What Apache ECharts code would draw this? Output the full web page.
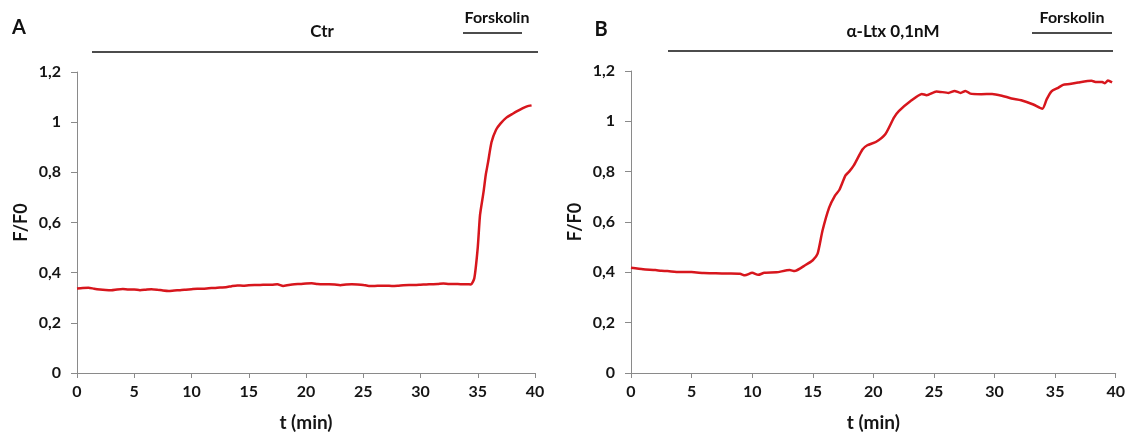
<!DOCTYPE html>
<html>
<head>
<meta charset="utf-8">
<script src="https://cdn.jsdelivr.net/npm/echarts@6/dist/echarts.min.js"></script>
<style>
  html, body { margin: 0; padding: 0; background: #fff; }
  #main { width: 1128px; height: 437px; }
</style>
</head>
<body>
<div id="main"></div>
<script>
// panel A : control, forskolin at ~35 min
var timeA = [0, 0.5, 1, 1.5, 2, 2.5, 3, 3.5, 4, 4.5, 5, 5.5, 6, 6.5, 7, 7.5, 8, 8.5, 9, 9.5,
  10, 10.5, 11, 11.5, 12, 12.5, 13, 13.5, 14, 14.5, 15, 15.5, 16, 16.5, 17, 17.5, 18, 18.5, 19, 19.5,
  20, 20.5, 21, 21.5, 22, 22.5, 23, 23.5, 24, 24.5, 25, 25.5, 26, 26.5, 27, 27.5, 28, 28.5, 29, 29.5,
  30, 30.5, 31, 31.5, 32, 32.5, 33, 33.5, 34, 34.4, 34.7, 35, 35.2, 35.5, 35.7, 35.9, 36.2, 36.6,
  37, 37.5, 38, 38.4, 38.9, 39.3, 39.7];
var ratioA = [0.337, 0.339, 0.340, 0.336, 0.333, 0.331, 0.330, 0.333, 0.335, 0.333, 0.333, 0.330, 0.332, 0.334, 0.332, 0.329, 0.327, 0.329, 0.330, 0.332,
  0.334, 0.336, 0.336, 0.338, 0.339, 0.341, 0.342, 0.346, 0.349, 0.348, 0.350, 0.351, 0.351, 0.352, 0.352, 0.354, 0.347, 0.351, 0.354, 0.355,
  0.357, 0.358, 0.355, 0.354, 0.354, 0.353, 0.350, 0.353, 0.354, 0.353, 0.351, 0.347, 0.347, 0.348, 0.348, 0.347, 0.348, 0.350, 0.351, 0.351,
  0.352, 0.353, 0.354, 0.355, 0.357, 0.355, 0.355, 0.354, 0.354, 0.353, 0.378, 0.50, 0.63, 0.72, 0.79, 0.84, 0.92, 0.97,
  0.995, 1.018, 1.032, 1.043, 1.055, 1.063, 1.067];

// panel B : alpha-Ltx 0,1nM, forskolin at ~34 min
var timeB = [0, 1, 2, 2.5, 3, 4, 5, 6, 7, 8, 9, 9.4, 10, 10.5, 11, 12, 13.1, 13.5, 14.4, 15,
  15.4, 15.8, 16.35, 16.8, 17.2, 17.7, 18.0, 18.4, 19.1, 19.5, 20.2, 21.0, 21.7, 22.1, 23.05, 24.0,
  24.4, 25.2, 26.2, 26.7, 27.2, 27.6, 28.0, 28.9, 29.8, 30.6, 31.4, 32.2, 33.2, 33.95, 34.3, 34.7,
  35.2, 35.65, 36.2, 36.9, 38.0, 38.4, 38.9, 39.1, 39.35, 39.7];
var ratioB = [0.418, 0.412, 0.409, 0.406, 0.405, 0.401, 0.401, 0.397, 0.396, 0.395, 0.394, 0.388, 0.398, 0.390, 0.398, 0.400, 0.409, 0.405, 0.429, 0.448,
  0.474, 0.565, 0.657, 0.702, 0.728, 0.785, 0.80, 0.826, 0.888, 0.905, 0.918, 0.950, 1.015, 1.041, 1.080, 1.109,
  1.104, 1.119, 1.113, 1.121, 1.113, 1.121, 1.110, 1.108, 1.109, 1.102, 1.091, 1.084, 1.067, 1.050, 1.087, 1.119,
  1.132, 1.145, 1.148, 1.154, 1.161, 1.156, 1.156, 1.151, 1.162, 1.155];

function pairs(xs, ys) {
  var out = [];
  for (var i = 0; i < xs.length; i++) out.push([xs[i], ys[i]]);
  return out;
}

var font = 'Lato, "Open Sans", sans-serif';
var red = '#d7161d';
var axisGray = '#8a8a8a';
var ink = '#151515';

function xAxisCfg(idx) {
  return {
    gridIndex: idx, type: 'value', min: 0, max: 40, interval: 5,
    name: 't (min)', nameLocation: 'middle', nameGap: 40,
    nameTextStyle: { fontFamily: font, fontWeight: 'bold', fontSize: 19, color: ink },
    axisLine: { lineStyle: { color: axisGray } },
    axisTick: { lineStyle: { color: axisGray }, length: 5 },
    axisLabel: { fontFamily: font, fontWeight: 'bold', fontSize: 16, color: ink, margin: 11 },
    splitLine: { show: false }
  };
}
function yAxisCfg(idx) {
  return {
    gridIndex: idx, type: 'value', min: 0, max: 1.2, interval: 0.2,
    name: 'F/F0', nameLocation: 'middle', nameGap: 47,
    nameTextStyle: { fontFamily: font, fontWeight: 'bold', fontSize: 18, color: ink },
    axisLine: { show: true, lineStyle: { color: axisGray } },
    axisTick: { show: true, lineStyle: { color: axisGray }, length: 6 },
    axisLabel: {
      fontFamily: font, fontWeight: 'bold', fontSize: 16, color: ink, margin: 16,
      formatter: function (v) { return String(Math.round(v * 10) / 10).replace('.', ','); }
    },
    splitLine: { show: false }
  };
}

function label(x, y, txt, size) {
  return {
    type: 'text', x: x, y: y,
    style: { text: txt, fill: '#111', font: 'bold ' + size + 'px ' + font, textAlign: 'center', textVerticalAlign: 'middle' }
  };
}
function hline(x1, x2, y) {
  return { type: 'line', shape: { x1: x1, y1: y, x2: x2, y2: y }, style: { stroke: '#111', lineWidth: 1.5 } };
}

var myChart = echarts.init(document.getElementById('main'));
var option = {
  animation: false,
  backgroundColor: '#fff',
  grid: [
    { left: 77, right: 593, top: 72, bottom: 61 },
    { left: 631, right: 10, top: 71, bottom: 59 }
  ],
  xAxis: [xAxisCfg(0), xAxisCfg(1)],
  yAxis: [yAxisCfg(0), yAxisCfg(1)],
  graphic: [
    label(19, 28, 'A', 20),
    label(322, 32, 'Ctr', 17),
    hline(92, 538, 52),
    label(497, 18, 'Forskolin', 16),
    hline(463, 522, 33),
    label(601, 30, 'B', 20),
    label(893, 32, '\u03b1-Ltx 0,1nM', 17),
    hline(668, 1113, 51),
    label(1072, 18, 'Forskolin', 16),
    hline(1032, 1112, 33)
  ],
  series: [
    {
      type: 'line', xAxisIndex: 0, yAxisIndex: 0, data: pairs(timeA, ratioA),
      showSymbol: false, smooth: 0.2, lineStyle: { color: red, width: 2.5 }
    },
    {
      type: 'line', xAxisIndex: 1, yAxisIndex: 1, data: pairs(timeB, ratioB),
      showSymbol: false, smooth: 0.2, lineStyle: { color: red, width: 2.5 }
    }
  ]
};
myChart.setOption(option);
</script>
</body>
</html>
